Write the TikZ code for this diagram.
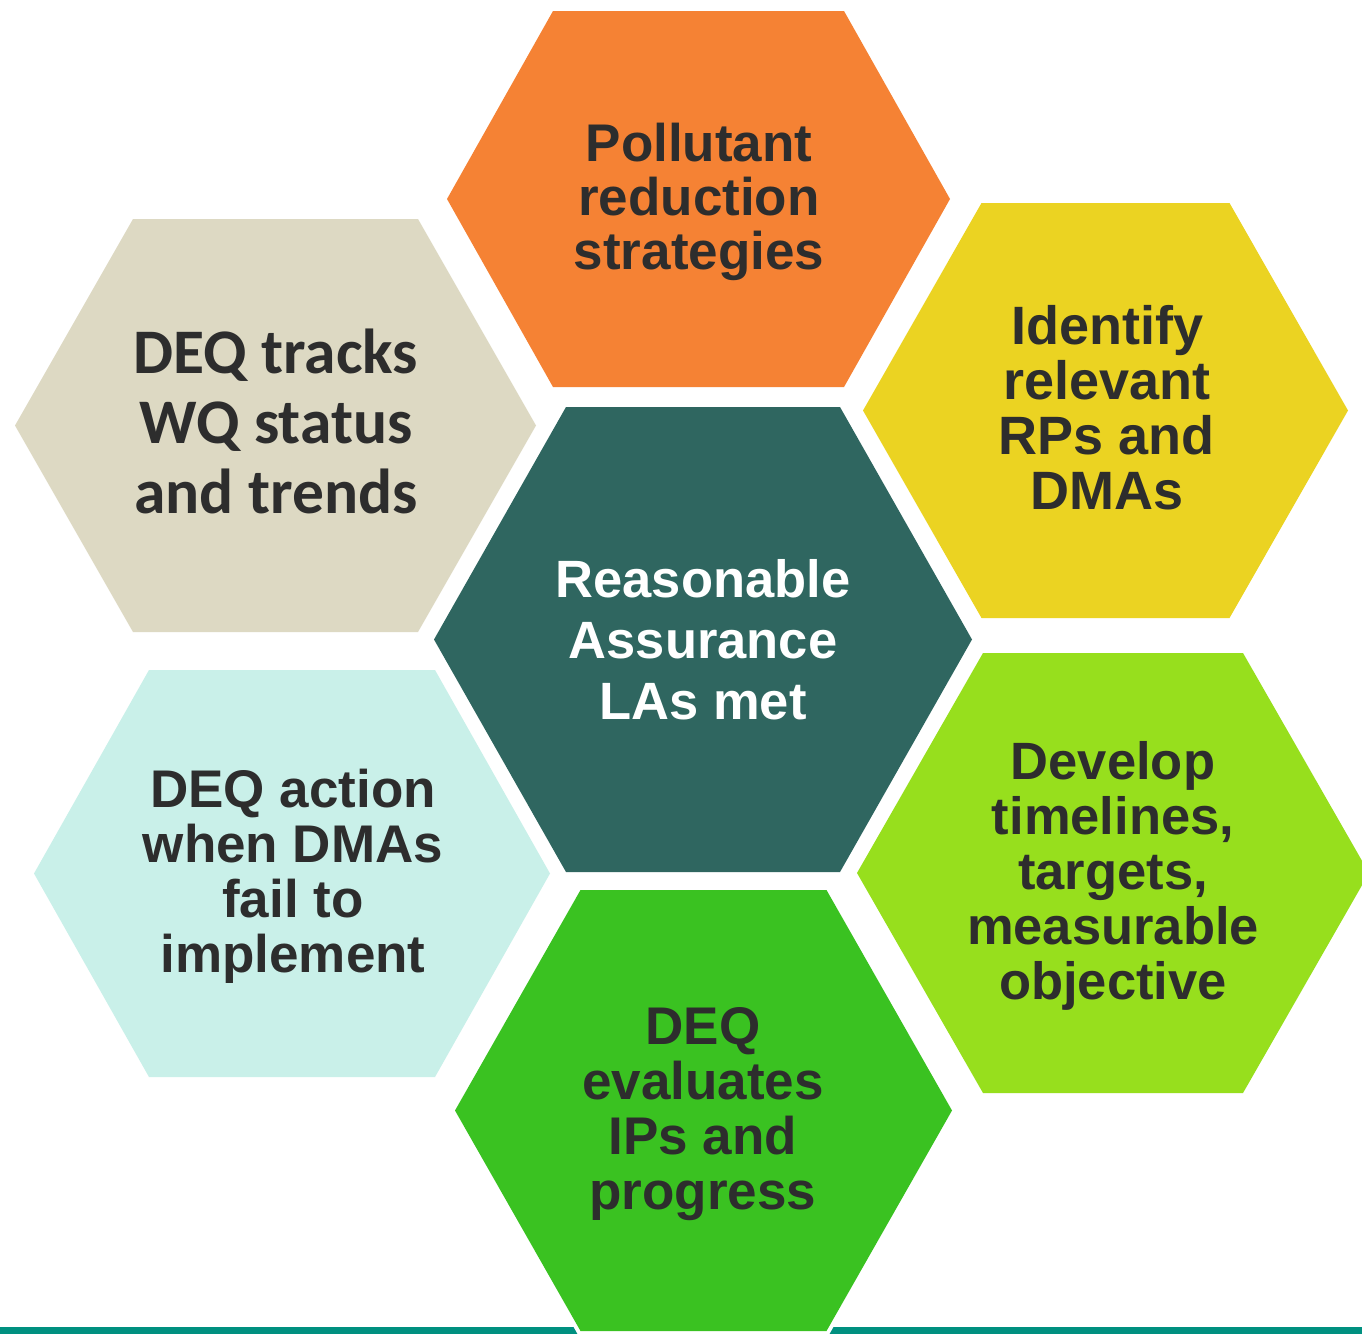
\documentclass[tikz,border=0pt]{standalone}
\usepackage{fontspec}
\setmainfont{Liberation Sans}
\newfontfamily\calfont{Carlito}
\definecolor{ink}{HTML}{2D2D2D}
\definecolor{hexorange}{HTML}{F58234}
\definecolor{hexbeige}{HTML}{DDD9C3}
\definecolor{hexyellow}{HTML}{EBD322}
\definecolor{hexcore}{HTML}{2F6660}
\definecolor{hexmint}{HTML}{C9F0E9}
\definecolor{hexlime}{HTML}{97DF1D}
\definecolor{hexgreen}{HTML}{3AC221}
\definecolor{baserule}{HTML}{009080}
% flat-topped hexagon: fill colour, centre x, centre y, half width, half top edge, half height
\newcommand{\hexcell}[6]{%
  \fill[#1, hexedge] (#2-#4,#3) -- (#2-#5,#3-#6) -- (#2+#5,#3-#6)
    -- (#2+#4,#3) -- (#2+#5,#3+#6) -- (#2-#5,#3+#6) -- cycle;}
\begin{document}
\begin{tikzpicture}[x=1pt, y=-1pt,
  hexedge/.style={preaction={draw=white, line width=8pt, line join=miter}},
  celltext/.style={align=center, anchor=base, inner sep=0pt, text=ink,
    font=\bfseries\fontsize{53}{55}\selectfont}]
\useasboundingbox (0,0) rectangle (1362,1333);
\clip (0,0) rectangle (1362,1333);
\fill[white] (0,0) rectangle (1362,1333);
% teal rule along the bottom edge
\fill[baserule] (0,1327) rectangle (1362,1334);
% honeycomb cells
\hexcell{hexorange}{698.5}{199}{251.5}{145.5}{188}
\hexcell{hexbeige}{275.5}{425.5}{260.5}{142.5}{206.5}
\hexcell{hexyellow}{1105.5}{410.5}{242.5}{124}{207.5}
\hexcell{hexcore}{703}{639.5}{269}{137}{232.5}
\hexcell{hexmint}{292}{873.5}{258}{143}{203.5}
\hexcell{hexlime}{1113}{873}{256}{130}{220}
\hexcell{hexgreen}{703.5}{1110.5}{248.5}{123}{220.5}
% cell labels (anchored on the baseline of the last line)
\node[celltext, font=\bfseries\fontsize{53}{54}\selectfont] (pollutant) at (699,269)
  {Pollutant\\reduction\\strategies};
\node[celltext, font=\calfont\bfseries\fontsize{63.5}{70}\selectfont] (tracks) at (276,513)
  {DEQ tracks\\WQ status\\and trends};
\node[celltext, font=\bfseries\fontsize{54}{55}\selectfont] (identify) at (1107,509)
  {Identify\\relevant\\RPs and\\DMAs};
\node[celltext, text=white, font=\bfseries\fontsize{52.5}{61}\selectfont] (assurance) at (703,719)
  {Reasonable\\Assurance\\LAs met};
\node[celltext] (action) at (293,972)
  {DEQ action\\when DMAs\\fail to\\implement};
\node[celltext, font=\bfseries\fontsize{52.5}{55}\selectfont] (develop) at (1113,999)
  {Develop\\timelines,\\targets,\\measurable\\objective};
\node[celltext] (evaluates) at (703,1209)
  {DEQ\\evaluates\\IPs and\\progress};
\end{tikzpicture}
\end{document}
